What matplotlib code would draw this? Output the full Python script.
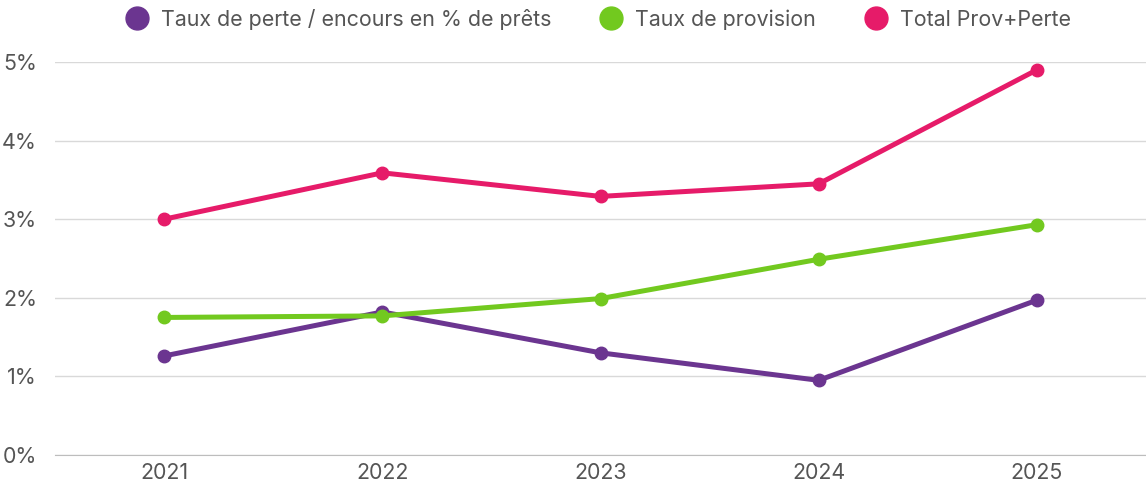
import matplotlib.pyplot as plt
from matplotlib.lines import Line2D
from matplotlib.ticker import FuncFormatter

plt.rcParams['font.family'] = ['Inter', 'DejaVu Sans']

# données
annees = ['2021', '2022', '2023', '2024', '2025']
taux_perte = [1.26, 1.82, 1.30, 0.95, 1.97]
taux_provision = [1.75, 1.77, 1.99, 2.49, 2.93]
total_prov_perte = [3.00, 3.59, 3.29, 3.45, 4.90]

series = [
    ('Taux de perte / encours en % de prêts', taux_perte, '#6b3590'),
    ('Taux de provision', taux_provision, '#72c91f'),
    ('Total Prov+Perte', total_prov_perte, '#e61b69'),
]

fig = plt.figure(figsize=(11.46, 4.88), dpi=100)
ax = fig.add_axes([55 / 1146, 33 / 488, 1 - 55 / 1146, (455 - 62) / 488])

x = range(len(annees))
for nom, vals, couleur in series:
    ax.plot(x, vals, color=couleur, lw=3.6, marker='o', ms=9,
            solid_capstyle='round', clip_on=False, label=nom)

ax.set_xlim(-0.5, len(annees) - 0.5)
ax.set_ylim(0, 5)
ax.set_yticks(range(0, 6))
ax.yaxis.set_major_formatter(FuncFormatter(lambda v, p: f'{v:.0f}%'))
ax.set_xticks(list(x))
ax.set_xticklabels(annees)
ax.grid(axis='y', color='#d9d9d9', lw=1)
ax.set_axisbelow(True)
for s in ['top', 'right', 'left']:
    ax.spines[s].set_visible(False)
ax.spines['bottom'].set_color('#bdbdbd')
ax.tick_params(length=0, labelsize=15.4, labelcolor='#555555')
ax.tick_params(axis='y', pad=13)
ax.tick_params(axis='x', pad=6)

handles = [Line2D([], [], color=c, marker='o', ls='none', ms=16.5) for _, _, c in series]
fig.legend(handles, [s[0] for s in series], loc='center', bbox_to_anchor=(0.522, 1 - 19 / 488),
           ncol=3, frameon=False, fontsize=15.4, labelcolor='#555555',
           handletextpad=0.62, columnspacing=2.3, handlelength=1.0)

fig.savefig('out.png', dpi=100)
